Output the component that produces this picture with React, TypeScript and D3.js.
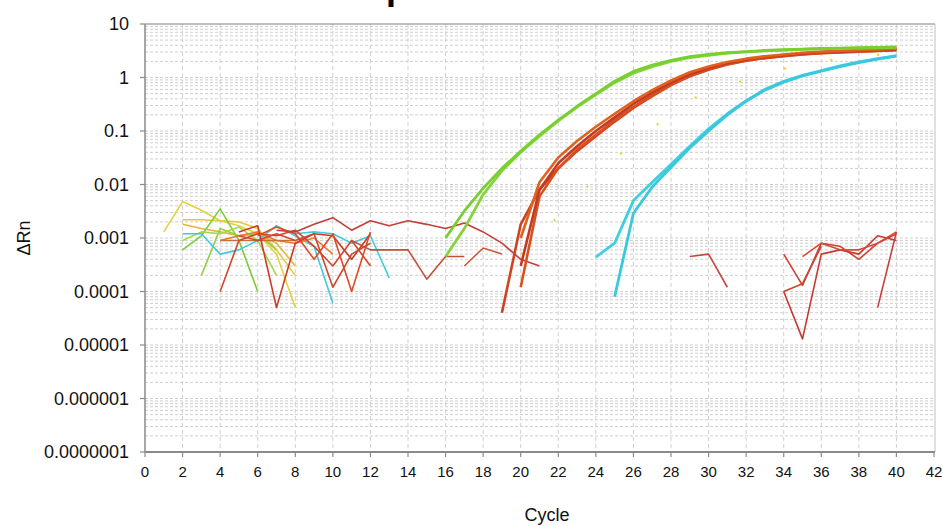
import React from "react";
import * as d3 from "d3";

// ---------- data ----------
const yTickValues = [10, 1, 0.1, 0.01, 0.001, 0.0001, 0.00001, 0.000001, 0.0000001];
const yTickLabels = ["10", "1", "0.1", "0.01", "0.001", "0.0001", "0.00001", "0.000001", "0.0000001"];
const xTickValues = [0, 2, 4, 6, 8, 10, 12, 14, 16, 18, 20, 22, 24, 26, 28, 30, 32, 34, 36, 38, 40, 42];

const ampCycles = [16, 17, 18, 19, 20, 21, 22, 23, 24, 25, 26, 27, 28, 29, 30, 31, 32, 33, 34, 35, 36, 37, 38, 39, 40];
const greenA = [0.001, 0.0032, 0.0085, 0.02, 0.042, 0.085, 0.16, 0.29, 0.5, 0.85, 1.3, 1.7, 2.1, 2.45, 2.7, 2.9, 3.05, 3.2, 3.3, 3.4, 3.5, 3.55, 3.6, 3.65, 3.75];
const greenB = [0.00045, 0.0015, 0.0065, 0.018, 0.04, 0.08, 0.155, 0.28, 0.48, 0.8, 1.2, 1.6, 2.0, 2.35, 2.6, 2.85, 3.0, 3.15, 3.25, 3.35, 3.45, 3.5, 3.55, 3.6, 3.65];

const redCycles = [19, 20, 21, 22, 23, 24, 25, 26, 27, 28, 29, 30, 31, 32, 33, 34, 35, 36, 37, 38, 39, 40];
const redA = [0.00004, 0.0018, 0.008, 0.02, 0.042, 0.08, 0.15, 0.27, 0.45, 0.72, 1.05, 1.4, 1.75, 2.05, 2.3, 2.5, 2.7, 2.85, 2.95, 3.05, 3.15, 3.25];
const redCycles2 = [20, 21, 22, 23, 24, 25, 26, 27, 28, 29, 30, 31, 32, 33, 34, 35, 36, 37, 38, 39, 40];
const redB = [0.00012, 0.006, 0.02, 0.045, 0.085, 0.16, 0.28, 0.47, 0.74, 1.08, 1.42, 1.78, 2.08, 2.33, 2.53, 2.72, 2.87, 2.98, 3.08, 3.18, 3.28];
const redC = [0.0003, 0.008, 0.025, 0.052, 0.1, 0.18, 0.32, 0.52, 0.8, 1.15, 1.5, 1.85, 2.15, 2.4, 2.6, 2.8, 2.95, 3.05, 3.15, 3.25, 3.35];
const redD = [0.001, 0.011, 0.032, 0.065, 0.12, 0.21, 0.36, 0.58, 0.88, 1.25, 1.6, 1.95, 2.25, 2.5, 2.7, 2.9, 3.05, 3.15, 3.25, 3.35, 3.45];

const yellowAmp = [0.0005, 0.0012, 0.0025, 0.006, 0.013, 0.03, 0.06, 0.11, 0.22, 0.38, 0.55, 0.72, 0.9, 1.15, 1.45, 1.75, 2.0, 2.25, 2.45, 2.65, 2.85];

const cyanCycles = [24, 25, 26, 27, 28, 29, 30, 31, 32, 33, 34, 35, 36, 37, 38, 39, 40];
const cyanA = [0.00044, 0.0008, 0.005, 0.011, 0.024, 0.052, 0.11, 0.21, 0.37, 0.6, 0.85, 1.1, 1.35, 1.65, 1.95, 2.25, 2.55];
const cyanCyclesB = [25, 26, 27, 28, 29, 30, 31, 32, 33, 34, 35, 36, 37, 38, 39, 40];
const cyanB = [0.00008, 0.0029, 0.009, 0.021, 0.048, 0.1, 0.2, 0.36, 0.58, 0.82, 1.07, 1.32, 1.6, 1.9, 2.2, 2.5];

// noise traces: [cycle, value]
const noiseYellow1: [number, number][] = [[1, 0.0013], [2, 0.0048], [3, 0.0033], [4, 0.0021], [5, 0.0017], [6, 0.0012], [7, 0.0005], [8, 0.00005]];
const noiseYellow2: [number, number][] = [[2, 0.0022], [3, 0.0022], [4, 0.0021], [5, 0.002], [6, 0.0015], [7, 0.0006], [8, 0.0002]];
const noiseYellow3: [number, number][] = [[2, 0.0018], [3, 0.0015], [4, 0.0013], [5, 0.0011], [6, 0.0012], [7, 0.0008], [8, 0.0003]];
const noiseGreen1: [number, number][] = [[2, 0.0006], [3, 0.0011], [4, 0.0035], [5, 0.0009], [6, 0.0001]];
const noiseGreen2: [number, number][] = [[3, 0.0002], [4, 0.0015], [5, 0.0011], [6, 0.0012], [7, 0.0006]];
const noiseGreen3: [number, number][] = [[2, 0.0009], [3, 0.0013], [4, 0.0012], [5, 0.0016], [6, 0.0009], [7, 0.0002]];
const noiseCyan1: [number, number][] = [[2, 0.0012], [3, 0.0012], [4, 0.0005], [5, 0.0006], [6, 0.0009], [7, 0.0017], [8, 0.0011], [9, 0.0007], [10, 0.00006]];
const noiseCyan2: [number, number][] = [[8, 0.0012], [9, 0.0013], [10, 0.0012], [11, 0.0008], [12, 0.0011], [13, 0.00018]];
const noiseOrange1: [number, number][] = [[4, 0.0009], [5, 0.0011], [6, 0.0013], [7, 0.0009], [8, 0.0008], [9, 0.001], [10, 0.0005]];
const noiseBrown1: [number, number][] = [[4, 0.0009], [5, 0.0009], [6, 0.0009], [7, 0.0009], [8, 0.0009]];
const noiseRed1: [number, number][] = [[4, 0.0001], [5, 0.0009], [6, 0.0012], [7, 0.0011], [8, 0.0014], [9, 0.0007], [10, 0.0003], [11, 0.0009], [12, 0.0003]];
const noiseRed2: [number, number][] = [[5, 0.0013], [6, 0.0017], [7, 0.00005], [8, 0.0008], [9, 0.0012], [10, 0.0011], [11, 0.0004], [12, 0.0012]];
const noiseRed3: [number, number][] = [[6, 0.0011], [7, 0.0016], [8, 0.0012], [9, 0.0004], [10, 0.0012], [11, 0.0001], [12, 0.0013]];
const noiseRed4: [number, number][] = [[5, 0.0011], [6, 0.0009], [7, 0.0012], [8, 0.0009], [9, 0.0012], [10, 0.00012], [11, 0.0005], [12, 0.0008]];
const noiseRedLong: [number, number][] = [[7, 0.0014], [8, 0.0013], [9, 0.0018], [10, 0.0024], [11, 0.0014], [12, 0.0021], [13, 0.0017], [14, 0.0021], [15, 0.0018], [16, 0.0015], [17, 0.0019], [18, 0.0013], [19, 0.0008], [20, 0.0004], [21, 0.0003]];
const noiseRedMid: [number, number][] = [[11, 0.0009], [12, 0.0006], [13, 0.0006], [14, 0.0006], [15, 0.00017], [16, 0.00045], [17, 0.00045]];
const noiseRedMid2: [number, number][] = [[17, 0.0003], [18, 0.00065], [19, 0.0005]];
const noiseRedRight1: [number, number][] = [[29, 0.00045], [30, 0.0005], [31, 0.00012]];
const noiseRedRight2: [number, number][] = [[34, 0.0005], [35, 0.00013], [36, 0.0008], [37, 0.0007], [38, 0.0004], [39, 0.0008], [40, 0.0012]];
const noiseRedRight3: [number, number][] = [[34, 0.0001], [35, 0.000013], [36, 0.0005], [37, 0.0006], [38, 0.0005], [39, 0.0011], [40, 0.0009]];
const noiseRedRight4: [number, number][] = [[35, 0.00045], [36, 0.0008], [37, 0.0006], [38, 0.0006], [39, 0.0008], [40, 0.0013]];
const noiseRedRight5: [number, number][] = [[34, 0.0001], [35, 0.00014], [36, 0.0007]];
const noiseRedRight6: [number, number][] = [[39, 0.00005], [40, 0.0013]];

const zip = (cs: number[], vs: number[]): [number, number][] => cs.map((c, i) => [c, vs[i]]);

// ---------- layout ----------
const W = 942;
const H = 526;
const left = 145;
const right = 934;
const top = 24;
const bottom = 452;

export default function App() {
  const x = d3.scaleLinear().domain([0, 42]).range([left, right]);
  const y = d3.scaleLog().domain([1e-7, 10]).range([bottom, top]);
  const line = d3
    .line<[number, number]>()
    .x((d) => x(d[0]))
    .y((d) => y(d[1]));

  const minorTicks: number[] = [];
  for (let e = -7; e < 1; e++) {
    for (let m = 1; m <= 9; m++) {
      const v = m * Math.pow(10, e);
      if (v > 1e-7) minorTicks.push(v);
    }
  }

  const noise: { d: [number, number][]; c: string }[] = [
    { d: noiseYellow1, c: "#e2d23a" },
    { d: noiseYellow2, c: "#e6c83c" },
    { d: noiseYellow3, c: "#e8b43a" },
    { d: noiseGreen1, c: "#7acc3e" },
    { d: noiseGreen2, c: "#92d046" },
    { d: noiseGreen3, c: "#a6d64a" },
    { d: noiseCyan1, c: "#44c8dc" },
    { d: noiseCyan2, c: "#44cce0" },
    { d: noiseOrange1, c: "#e8782e" },
    { d: noiseBrown1, c: "#c4703a" },
    { d: noiseRed1, c: "#d6442a" },
    { d: noiseRed2, c: "#cc3a26" },
    { d: noiseRed3, c: "#e04a22" },
    { d: noiseRed4, c: "#c84a30" },
    { d: noiseRedLong, c: "#c0403a" },
    { d: noiseRedMid, c: "#c0503a" },
    { d: noiseRedMid2, c: "#d0583a" },
    { d: noiseRedRight1, c: "#c8463a" },
    { d: noiseRedRight2, c: "#d04034" },
    { d: noiseRedRight3, c: "#c83a30" },
    { d: noiseRedRight4, c: "#d84a36" },
    { d: noiseRedRight5, c: "#cc4434" },
    { d: noiseRedRight6, c: "#c8403a" },
  ];

  const amps: { d: [number, number][]; c: string; w: number; dash?: string }[] = [
    { d: zip(redCycles2, yellowAmp), c: "#f0d020", w: 2, dash: "2,45" },
    { d: zip(cyanCycles, cyanA), c: "#3ecfe0", w: 2.8 },
    { d: zip(cyanCyclesB, cyanB), c: "#3ac8dc", w: 2.8 },
    { d: zip(redCycles, redA), c: "#cf4320", w: 2.6 },
    { d: zip(redCycles2, redB), c: "#d9501e", w: 2.6 },
    { d: zip(redCycles2, redC), c: "#c23a24", w: 2.6 },
    { d: zip(redCycles2, redD), c: "#e0601c", w: 2.6 },
    { d: zip(ampCycles, greenB), c: "#84d43a", w: 2.8 },
    { d: zip(ampCycles, greenA), c: "#78d030", w: 2.8 },
  ];

  const font = "'Liberation Sans', Arial, sans-serif";

  return (
    <svg
      width={W}
      height={H}
      style={{ position: "absolute", left: 0, top: 0, background: "#fff" }}
      fontFamily={font}
    >
      <rect x={0} y={0} width={W} height={H} fill="#fff" />
      <text x={328} y={-1.5} fontSize={36} fontWeight="bold" fill="#000">
        Amplification Plot
      </text>

      {/* horizontal grid */}
      {minorTicks.map((v, i) => (
        <line
          key={"h" + i}
          x1={left}
          x2={right}
          y1={y(v)}
          y2={y(v)}
          stroke="#cfcfcf"
          strokeWidth={1}
          strokeDasharray="3,2"
        />
      ))}
      {/* vertical grid */}
      {xTickValues.slice(1, -1).map((c) => (
        <line
          key={"v" + c}
          x1={x(c)}
          x2={x(c)}
          y1={top}
          y2={bottom}
          stroke="#d0d0d0"
          strokeWidth={1}
          strokeDasharray="4,3"
        />
      ))}
      {/* frame */}
      <line x1={left} x2={right + 1} y1={top} y2={top} stroke="#a8a8a8" strokeWidth={1.5} />
      <line x1={right + 1} x2={right + 1} y1={top} y2={bottom} stroke="#c0c0c0" strokeWidth={1} />

      {/* data */}
      <g fill="none" strokeLinejoin="round">
        {noise.map((s, i) => (
          <path key={"n" + i} d={line(s.d) || ""} stroke={s.c} strokeWidth={1.6} />
        ))}
        {amps.map((s, i) => (
          <path
            key={"a" + i}
            d={line(s.d) || ""}
            stroke={s.c}
            strokeWidth={s.w}
            strokeDasharray={s.dash}
          />
        ))}
      </g>

      {/* axes */}
      <line x1={left} x2={left} y1={top} y2={bottom} stroke="#8a8a8a" strokeWidth={1.5} />
      <line x1={left} x2={right + 1} y1={bottom} y2={bottom} stroke="#8a8a8a" strokeWidth={2} />
      {yTickValues.map((v, i) => (
        <g key={"yt" + i}>
          <line x1={left - 5} x2={left} y1={y(v)} y2={y(v)} stroke="#8a8a8a" strokeWidth={1.2} />
          <text
            x={left - 16}
            y={y(v)}
            fontSize={18}
            textAnchor="end"
            dominantBaseline="central"
            fill="#111"
          >
            {yTickLabels[i]}
          </text>
        </g>
      ))}
      {xTickValues.map((c) => (
        <g key={"xt" + c}>
          <line x1={x(c)} x2={x(c)} y1={bottom} y2={bottom + 5} stroke="#8a8a8a" strokeWidth={1.2} />
          <text
            x={x(c)}
            y={471}
            fontSize={15}
            textAnchor="middle"
            dominantBaseline="central"
            fill="#111"
          >
            {c}
          </text>
        </g>
      ))}
      <text
        transform={`translate(24, ${(top + bottom) / 2}) rotate(-90)`}
        fontSize={18}
        textAnchor="middle"
        dominantBaseline="central"
        fill="#111"
      >
        ΔRn
      </text>
      <text x={547} y={515} fontSize={18} textAnchor="middle" dominantBaseline="central" fill="#111">
        Cycle
      </text>
    </svg>
  );
}
